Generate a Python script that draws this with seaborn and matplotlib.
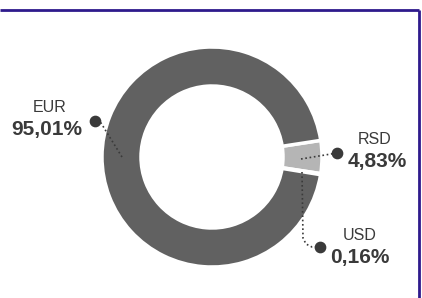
import matplotlib
matplotlib.use("Agg")
import matplotlib.pyplot as plt
import seaborn as sns

# ─── Data ────────────────────────────────────────────────────────────────────
currencies = ["RSD", "USD", "EUR"]
shares     = [4.83, 0.16, 95.01]
share_text = ["4,83%", "0,16%", "95,01%"]

# ─── Style ───────────────────────────────────────────────────────────────────
DARK   = "#616161"
LIGHT  = "#b5b5b5"
TEXT   = "#3a3a3a"
FRAME  = "#2e1a8c"

sns.set_theme(style="white")
plt.rcParams["font.family"] = ["Liberation Sans", "DejaVu Sans"]

W, H = 422, 298
fig = plt.figure(figsize=(W / 100, H / 100), dpi=100, facecolor="white")
ax = fig.add_axes([0, 0, 1, 1])

# pixel-ish coords, y up
cx, cy, r = 212, H - 157, 110
colors = [LIGHT, DARK, DARK]
ax.pie(shares, colors=colors, startangle=8.7, counterclock=False,
       center=(cx, cy), radius=r,
       wedgeprops={"width": 39, "edgecolor": "white", "linewidth": 2.5})
ax.set_xlim(0, W)
ax.set_ylim(0, H)
ax.set_aspect("equal")
ax.axis("off")

def py(y):
    return H - y

# leader lines
lead = dict(color=TEXT, linestyle=(0, (1, 1.6)), linewidth=1.2)
ax.plot([122, 101, 95], [py(157), py(123), py(121)], **lead)
ax.plot([301, 337], [py(159), py(153)], **lead)
ax.plot([302, 303, 306, 312, 320], [py(172), py(238), py(244), py(247), py(247)], **lead)
ax.scatter([95, 337, 320], [py(121), py(153), py(247)], s=55, color=TEXT, zorder=5)

# labels (name over value, centred)
lbl = dict(ha="center", va="center", fontsize=11.5, color=TEXT)
val = dict(ha="center", va="center", fontsize=15, fontweight="bold", color=TEXT)
ax.text(50, py(107), currencies[2], **lbl)
ax.text(47, py(129), share_text[2], **val)
ax.text(375, py(140), currencies[0], **lbl)
ax.text(377, py(162), share_text[0], **val)
ax.text(360, py(236), currencies[1], **lbl)
ax.text(360, py(257), share_text[1], **val)

# frame: top and right edges
ax.plot([0, 419], [py(10), py(10)], color=FRAME, linewidth=2, solid_capstyle="butt")
ax.plot([419, 419], [py(10), 0], color=FRAME, linewidth=2, solid_capstyle="butt")

fig.savefig("out.png", dpi=100, facecolor="white")
